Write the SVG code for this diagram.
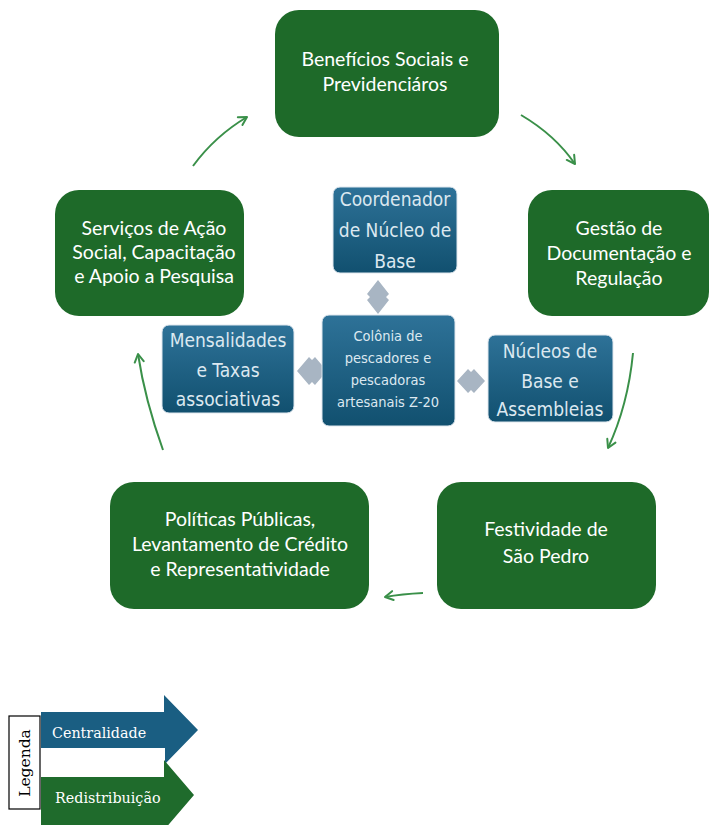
<svg xmlns="http://www.w3.org/2000/svg" width="710" height="825" viewBox="0 0 710 825">
<defs>
<linearGradient id="bg" x1="0" y1="0" x2="0" y2="1">
<stop offset="0" stop-color="#2e7298"/>
<stop offset="1" stop-color="#11506f"/>
</linearGradient>
<marker id="ah" viewBox="0 0 12 12" refX="10" refY="6" markerWidth="12" markerHeight="12" markerUnits="userSpaceOnUse" orient="auto">
<polyline points="2,1.5 10,6 2,10.5" fill="none" stroke="#3a9049" stroke-width="2" stroke-linecap="round" stroke-linejoin="round"/>
</marker>
<style>
.g{fill:#1e6a29}
.b{fill:url(#bg);stroke:#dfe7ee;stroke-width:1}
.gt{font-family:Lato,"Open Sans",sans-serif;font-size:19.5px;fill:#fff;text-anchor:middle}
.bt{font-family:"DejaVu Sans Condensed","DejaVu Sans",sans-serif;font-stretch:condensed;font-size:19px;fill:#dce8f0;text-anchor:middle}
.ct{font-family:"DejaVu Sans Condensed","DejaVu Sans",sans-serif;font-stretch:condensed;font-size:14.5px;fill:#dce8f0;text-anchor:middle}
.d{fill:#a8b5c3}
.c{fill:none;stroke:#3a9049;stroke-width:2;marker-end:url(#ah)}
.lt{font-family:"DejaVu Serif",serif;font-size:14.3px;fill:#fff}
</style>
</defs>
<rect width="710" height="825" fill="#fff"/>

<g id="connectors">
<path class="c" d="M193,166 Q215,136 247,117"/>
<path class="c" d="M521,115 Q555,135 575,164"/>
<path class="c" d="M633,353 Q628,405 608,448"/>
<path class="c" d="M423,593 Q402,594 385,597"/>
<path class="c" d="M163,450 Q145,400 138,354"/>
<polygon class="d" points="378,280 389,294 386,297 389,300 378,314 367,300 370,297 367,294"/>
<polygon class="d" points="297,371 309,357 312,360 315,357 327,371 315,385 312,382 309,385"/>
<polygon class="d" points="457,381 468,369 471,372 474,369 485,381 474,393 471,390 468,393"/>
</g>

<g id="beneficios">
<rect class="g" x="275" y="10" width="224" height="127" rx="24"/>
<text class="gt" x="385" y="66">Benefícios Sociais e</text>
<text class="gt" x="385" y="91">Previdenciáros</text>
</g>

<g id="gestao">
<rect class="g" x="528" y="190" width="181" height="126" rx="24"/>
<text class="gt" x="619" y="235">Gestão de</text>
<text class="gt" x="619" y="260">Documentação e</text>
<text class="gt" x="619" y="285">Regulação</text>
</g>

<g id="festividade">
<rect class="g" x="437" y="482" width="219" height="127" rx="24"/>
<text class="gt" x="546" y="536">Festividade de</text>
<text class="gt" x="546" y="563">São Pedro</text>
</g>

<g id="politicas">
<rect class="g" x="110" y="482" width="259" height="127" rx="24"/>
<text class="gt" x="240" y="526">Políticas Públicas,</text>
<text class="gt" x="240" y="551">Levantamento de Crédito</text>
<text class="gt" x="240" y="576">e Representatividade</text>
</g>

<g id="servicos">
<rect class="g" x="55" y="190" width="189" height="126" rx="24"/>
<text class="gt" x="154" y="235">Serviços de Ação</text>
<text class="gt" x="154" y="259">Social, Capacitação</text>
<text class="gt" x="154" y="283">e Apoio a Pesquisa</text>
</g>

<g id="coordenador">
<rect class="b" x="333" y="187" width="124" height="86" rx="7"/>
<text class="bt" x="395" y="206">Coordenador</text>
<text class="bt" x="395" y="237">de Núcleo de</text>
<text class="bt" x="395" y="268">Base</text>
</g>

<g id="colonia">
<rect class="b" x="322" y="315" width="133" height="111" rx="7"/>
<text class="ct" x="388" y="341">Colônia de</text>
<text class="ct" x="388" y="363">pescadores e</text>
<text class="ct" x="388" y="385">pescadoras</text>
<text class="ct" x="388" y="407">artesanais Z-20</text>
</g>

<g id="mensalidades">
<rect class="b" x="162" y="325" width="132" height="88" rx="7"/>
<text class="bt" x="228" y="347">Mensalidades</text>
<text class="bt" x="228" y="377">e Taxas</text>
<text class="bt" x="228" y="406">associativas</text>
</g>

<g id="nucleos">
<rect class="b" x="488" y="335" width="125" height="87" rx="7"/>
<text class="bt" x="550" y="358">Núcleos de</text>
<text class="bt" x="550" y="388">Base e</text>
<text class="bt" x="550" y="416">Assembleias</text>
</g>

<g id="legenda">
<polygon fill="#1a5e82" points="41,712 164,712 164,695 198,730 164,765 41,765 41,748"/>
<rect x="41" y="748" width="124" height="29" fill="#fff"/>
<polygon fill="#1f6b2c" points="41,777 164,777 164,760 194,795 164,830 41,830"/>
<rect x="9" y="716" width="31" height="93" fill="#fff" stroke="#000" stroke-width="1.2"/>
<text font-family="DejaVu Serif,serif" font-size="15.5" fill="#000" text-anchor="middle" transform="translate(30,763) rotate(-90)">Legenda</text>
<text class="lt" x="52" y="738">Centralidade</text>
<text class="lt" x="55" y="803">Redistribuição</text>
</g>
</svg>
